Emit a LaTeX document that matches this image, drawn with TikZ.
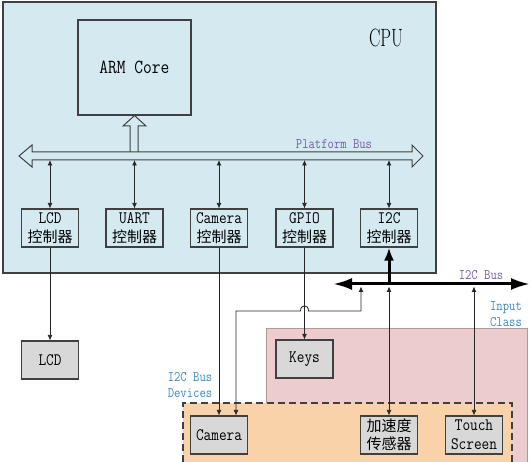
\documentclass[tikz,border=0pt]{standalone}
\usepackage{fontspec}
\setmonofont[FakeStretch=0.85]{Latin Modern Mono}
\usetikzlibrary{arrows.meta,backgrounds}
\newfontfamily\cjk{Noto Sans CJK SC}
\definecolor{cpublue}{RGB}{213,234,240}
\definecolor{inputpink}{RGB}{236,204,204}
\definecolor{devpeach}{RGB}{250,210,170}
\definecolor{boxgray}{RGB}{216,216,216}
\definecolor{busviolet}{RGB}{120,90,170}
\definecolor{labelblue}{RGB}{60,135,190}
\definecolor{edgegray}{RGB}{64,64,64}
\newcommand{\ctrlname}[1]{#1\\{\cjk\fontsize{15}{18}\selectfont 控制器}}
\tikzset{
  ctrl/.style={draw=edgegray, line width=1.1pt, minimum width=57pt, minimum height=38pt,
    inner sep=0pt, align=center, font=\fontsize{17.5}{18.5}\selectfont\ttfamily},
  dev/.style={ctrl, fill=boxgray},
  link/.style={draw=black!85, line width=0.8pt, >={Latex[length=5.5pt,width=5pt]}},
  ibus/.style={line width=3pt, {Latex[length=19pt,width=12pt]}-{Latex[length=19pt,width=12pt]}},
  hollow/.style={draw=edgegray, line width=1pt, fill=cpublue, line join=miter},
  buslabel/.style={text=busviolet, font=\fontsize{14.5}{16}\selectfont\ttfamily},
  grouplabel/.style={text=labelblue, align=center, font=\fontsize{14.5}{16}\selectfont\ttfamily}
}

\begin{document}
\begin{tikzpicture}[x=1pt, y=-1pt]
    \useasboundingbox (0,0) rectangle (531,462);
    % Areas
    \draw[draw=edgegray, line width=1.1pt, fill=cpublue] (3,2) rectangle (436,273);
    \fill[inputpink] (266,328) rectangle (527,462);
    \draw[draw=inputpink!75!black, line width=0.6pt] (266,462) -- (266,328) -- (527,328) -- (527,462);
    \fill[devpeach] (183,403) rectangle (512,462);
    \draw[draw=edgegray, line width=1.1pt, dash pattern=on 7pt off 4pt]
      (183,462) -- (183,403) -- (512,403) -- (512,462);
    \begin{scope}
      % Inside the CPU
      \node(cpulbl)[font=\fontsize{25}{25}\selectfont, xscale=0.68, transform shape] at (386,38) {CPU};
      \node(arm)[draw=edgegray, line width=1.1pt, minimum width=113pt, minimum height=95pt,
        font=\fontsize{20}{22}\selectfont\ttfamily] at (134.5,67.5) {ARM Core};
      % Hollow arrow up to the core, and the platform bus
      \draw[hollow] (130,152) -- (130,126) -- (123,126) -- (arm.south) -- (146,126) -- (138,126) -- (138,152);
      \draw[hollow] (19,156) -- (32,145) -- (32,152) -- (412,152) -- (412,145) -- (423,156)
        -- (412,167) -- (412,160) -- (32,160) -- (32,167) -- cycle;
      \coordinate(busb) at (0,160);
      \node(pbuslbl)[buslabel] at (334,144) {Platform Bus};
      % Controllers
      \node(lcdc) [ctrl] at (50,228)  {\ctrlname{LCD}};
      \node(uartc)[ctrl] at (134.5,228) {\ctrlname{UART}};
      \node(camc) [ctrl] at (219,228) {\ctrlname{Camera}};
      \node(gpioc)[ctrl] at (304.5,228) {\ctrlname{GPIO}};
      \node(i2cc) [ctrl] at (389,228) {\ctrlname{I2C}};
    \end{scope}
    \path (lcdc.north |- busb)  edge[link, <->] (lcdc.north);
    \path (uartc.north |- busb) edge[link, <->] (uartc.north);
    \path (camc.north |- busb)  edge[link, <->] (camc.north);
    \path (gpioc.north |- busb) edge[link, <->] (gpioc.north);
    \path (i2cc.north |- busb)  edge[link, <->] (i2cc.north);
    \begin{scope}
      % Devices
      \node(lcd)   [dev] at (50,360)    {LCD};
      \node(keys)  [dev] at (304.5,359) {Keys};
      \node(camdev)[dev] at (219,435)   {Camera};
      \node(accel) [dev, font=\cjk\fontsize{15}{18.5}\selectfont] at (389,435) {加速度\\传感器};
      \node(touch) [dev] at (474,435)   {Touch\\Screen};
      \node(inlbl) [grouplabel] at (506,314) {Input\\Class};
      \node(devlbl)[grouplabel] at (190,385) {I2C Bus\\Devices};
    \end{scope}
    % I2C bus
    \coordinate(ibusl) at (333,284);
    \coordinate(ibusr) at (530,284);
    \coordinate(ibusb) at (0,286.5);
    \node(ibuslbl)[buslabel] at (481,275) {I2C Bus};
    \draw[ibus] (ibusl) -- (ibusr);
    \draw[line width=3pt, -{Latex[length=13pt,width=10pt]}] (i2cc.south |- ibusl) -- (i2cc.south);
    \path (lcdc)  edge[link, ->] (lcd);
    \path (camc)  edge[link, ->] (camdev);
    \path (gpioc) edge[link, ->] (keys);
    \path (accel.north |- ibusb) edge[link, <->] (accel.north);
    \path (touch.north |- ibusb) edge[link, <->] (touch.north);
    \coordinate(bendr) at (361,311);
    \coordinate(bendl) at (236,311);
    \draw[link, <->] (bendr |- ibusb) -- (bendr) -- (308.5,311)
      .. controls (308.5,304) and (300.5,304) .. (300.5,311) -- (bendl) -- (bendl |- camdev.north);
\end{tikzpicture}
\end{document}
